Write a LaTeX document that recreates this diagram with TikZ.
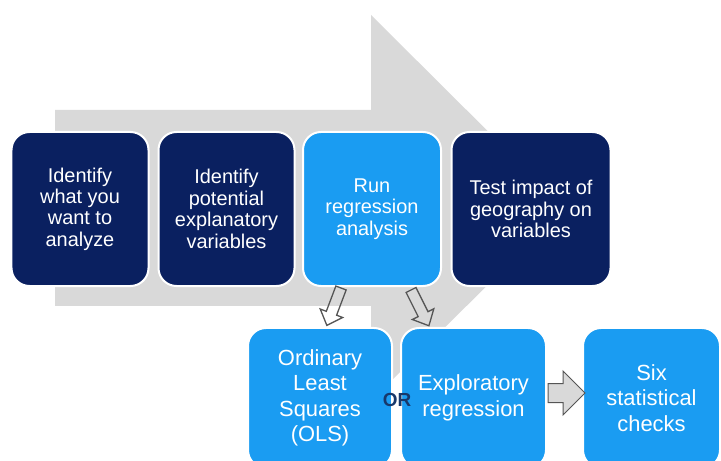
\documentclass[tikz,border=0pt]{standalone}
\usepackage{fontspec}
\setmainfont{Liberation Sans}
\definecolor{navy}{HTML}{0A2060}
\definecolor{lblue}{HTML}{1A9CF2}
\definecolor{bggray}{HTML}{D9D9D9}
\definecolor{outlinegray}{HTML}{555555}
\definecolor{ortext}{HTML}{17386B}
\tikzset{
  box/.style={rounded corners=18bp, draw=white, line width=2bp, align=center, text=white, inner sep=0pt},
  topbox/.style={box, minimum height=154bp, font=\fontsize{20}{21.5}\selectfont},
  botbox/.style={box, minimum height=140bp, font=\fontsize{22}{25.5}\selectfont},
  darkbox/.style={fill=navy},
  lightbox/.style={fill=lblue},
  hollowarrow/.pic={\draw[outlinegray, line width=1.3bp, line join=miter]
     (0,-5.5) -- (27,-5.5) -- (27,-12) -- (40,0) -- (27,12) -- (27,5.5) -- (0,5.5) -- cycle;},
  grayarrow/.pic={\draw[outlinegray, fill=bggray, line width=1bp]
     (0,-9.5) -- (15,-9.5) -- (15,-22) -- (37,0) -- (15,22) -- (15,9.5) -- (0,9.5) -- cycle;}
}
\begin{document}
\begin{tikzpicture}[x=1bp,y=-1bp]
\useasboundingbox (0,0) rectangle (721,461);
\clip (0,0) rectangle (721,461);
% big background arrow
\fill[bggray] (55,110) -- (371,110) -- (371,15) -- (565,208) -- (371,401) -- (371,306) -- (55,306) -- cycle;
% top row
\node[topbox, darkbox, minimum width=137bp] (b1) at (80,209) {Identify\\what you\\want to\\analyze};
\node[topbox, darkbox, minimum width=136bp] (b2) at (226.5,209) {Identify\\potential\\explanatory\\variables};
\node[topbox, lightbox, minimum width=138bp] (b3) at (372,209) {Run\\regression\\analysis};
\node[topbox, darkbox, minimum width=159bp] (b4) at (531,209) {Test impact of\\geography on\\variables};
% bottom row
\node[botbox, lightbox, minimum width=144bp] (ols) at (320,398) {Ordinary\\Least\\Squares\\(OLS)};
\node[botbox, lightbox, minimum width=145bp] (expl) at (473.5,398) {Exploratory\\regression};
\node[botbox, lightbox, minimum width=137bp] (six) at (651.5,398) {Six\\statistical\\checks};
% OR label
\node[font=\bfseries\fontsize{19}{19}\selectfont, text=ortext, inner sep=0pt] (or) at (397,400) {OR};
% hollow arrows from Run box
\coordinate (a1) at (341,288);
\coordinate (a2) at (411,290);
\pic[rotate=-110.7] at (a1) {hollowarrow};
\pic[rotate=-63.4] at (a2) {hollowarrow};
% arrow to six checks
\coordinate (a3) at (548,393);
\pic at (a3) {grayarrow};
\end{tikzpicture}
\end{document}
